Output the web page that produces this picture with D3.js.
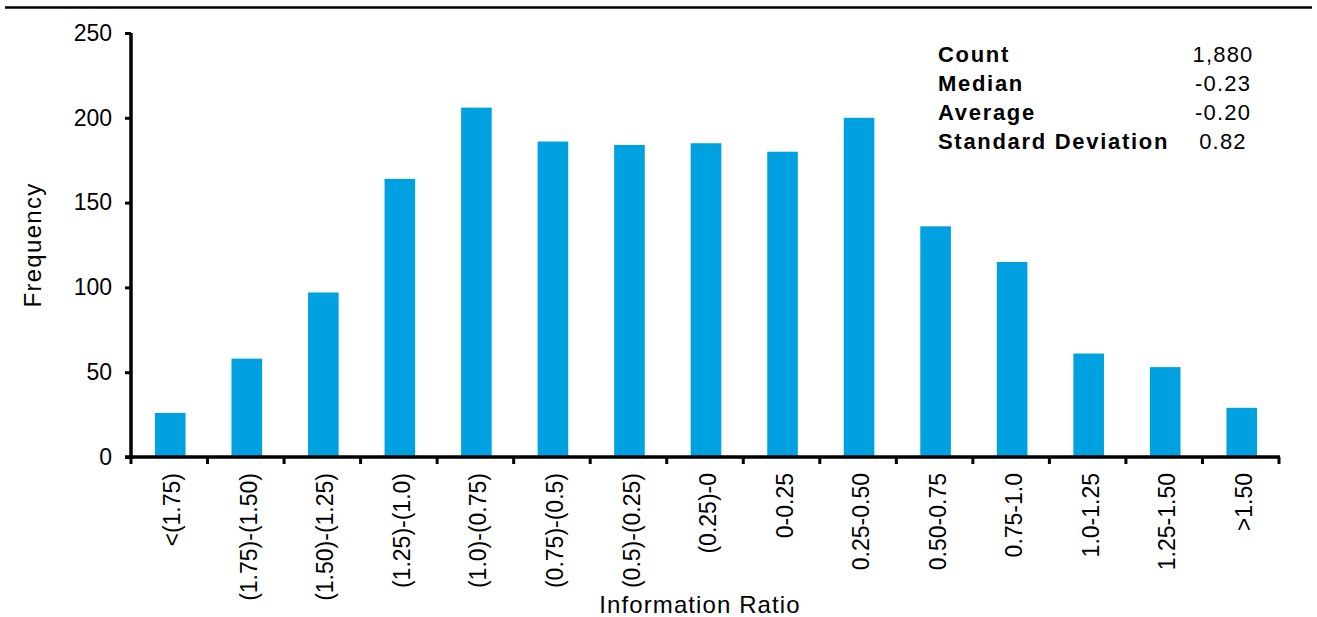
<!DOCTYPE html>
<html><head><meta charset="utf-8">
<script src="https://cdn.jsdelivr.net/npm/d3@7/dist/d3.min.js"></script>
<style>
html,body{margin:0;padding:0;background:#fff;}
svg{display:block;font-family:"Liberation Sans",Arial,sans-serif;}
</style></head>
<body>
<svg id="chart" width="1317" height="617"></svg>
<script>
const categories = ["<(1.75)","(1.75)-(1.50)","(1.50)-(1.25)","(1.25)-(1.0)","(1.0)-(0.75)","(0.75)-(0.5)","(0.5)-(0.25)","(0.25)-0","0-0.25","0.25-0.50","0.50-0.75","0.75-1.0","1.0-1.25","1.25-1.50",">1.50"];
const frequencies = [26,58,97,164,206,186,184,185,180,200,136,115,61,53,29];
const yTicks = [0,50,100,150,200,250];
const statLabels = ["Count","Median","Average","Standard Deviation"];
const statValues = ["1,880","-0.23","-0.20","0.82"];
const xTitle = "Information Ratio";
const yTitle = "Frequency";

const svg = d3.select("#chart");
const plotL = 131, plotR = 1279, plotT = 33, plotB = 457;
const barColor = "#00A1E0";

// top rule
svg.append("line").attr("x1",5).attr("x2",1312).attr("y1",7.5).attr("y2",7.5)
  .attr("stroke","#000").attr("stroke-width",2.5);

const x = d3.scaleBand().domain(categories).range([plotL,plotR]).paddingInner(0.6).paddingOuter(0.3);
const y = d3.scaleLinear().domain([0,250]).range([plotB,plotT]);

// bars
svg.append("g").selectAll("rect").data(frequencies).join("rect")
  .attr("x",(d,i)=>x(categories[i])+1)
  .attr("y",d=>y(d))
  .attr("width",x.bandwidth())
  .attr("height",d=>y(0)-y(d))
  .attr("fill",barColor);

// y axis
const yAxis = d3.axisLeft(y).tickValues(yTicks).tickSize(6).tickPadding(13).tickSizeOuter(0);
const gy = svg.append("g").attr("transform",`translate(${plotL},0)`).call(yAxis);
gy.select(".domain").attr("stroke-width",3.5).attr("d",`M0,${plotT}V${plotB+2}`);
gy.selectAll(".tick line").attr("stroke-width",3);
gy.selectAll(".tick text").attr("font-size",23).attr("fill","#000")
  .attr("font-family","Liberation Sans, Arial, sans-serif");

// x axis: boundary ticks
const step = x.step();
const bounds = d3.range(categories.length+1).map(i=>plotL+i*step);
const gx = svg.append("g");
gx.append("line").attr("x1",plotL-6).attr("x2",plotR+1).attr("y1",plotB).attr("y2",plotB)
  .attr("stroke","#000").attr("stroke-width",3.5);
gx.selectAll("line.tk").data(bounds).join("line").attr("class","tk")
  .attr("x1",d=>d).attr("x2",d=>d).attr("y1",plotB).attr("y2",plotB+7)
  .attr("stroke","#000").attr("stroke-width",3);

// x labels
const xAxis = d3.axisBottom(x).tickSize(0).tickPadding(0);
const gl = svg.append("g").attr("transform",`translate(3,${plotB})`).call(xAxis);
gl.select(".domain").remove();
gl.selectAll(".tick text")
  .attr("font-size",23).attr("fill","#000")
  .attr("font-family","Liberation Sans, Arial, sans-serif")
  .attr("text-anchor","end")
  .attr("transform","rotate(-90)")
  .attr("x",-16).attr("y",0).attr("dy","0.35em");

// titles
svg.append("text").attr("x",700).attr("y",613).attr("text-anchor","middle")
  .attr("font-size",24).attr("letter-spacing","1.1px").text(xTitle);
svg.append("text").attr("transform","translate(41,245) rotate(-90)").attr("text-anchor","middle")
  .attr("font-size",24).attr("letter-spacing","1.3px").text(yTitle);

// stats table
const rowY = d3.scaleLinear().domain([0,3]).range([62,148.5]);
const st = svg.append("g");
st.selectAll("text.lab").data(statLabels).join("text").attr("class","lab")
  .attr("x",938).attr("y",(d,i)=>rowY(i)).attr("font-size",22).attr("font-weight","bold")
  .attr("letter-spacing","1.7px").text(d=>d);
st.selectAll("text.val").data(statValues).join("text").attr("class","val")
  .attr("x",1223).attr("y",(d,i)=>rowY(i)).attr("font-size",22).attr("text-anchor","middle")
  .attr("letter-spacing","1.2px").text(d=>d);
</script>
</body></html>
